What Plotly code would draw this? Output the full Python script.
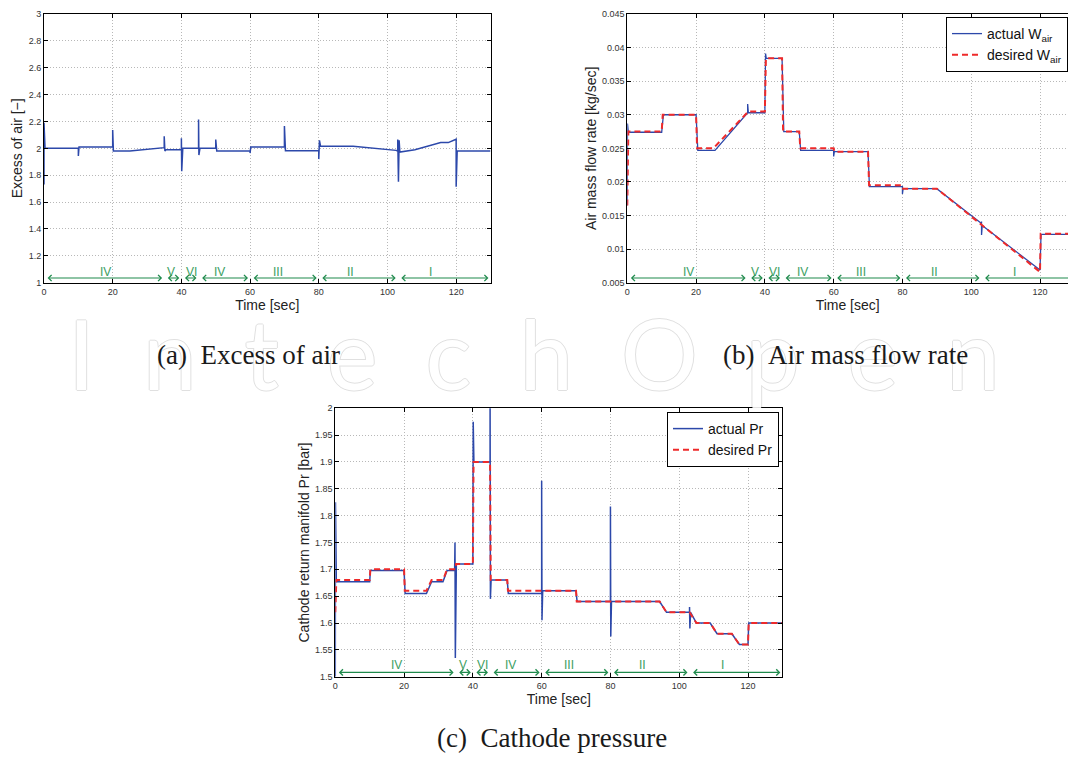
import plotly.graph_objects as go

# ---------------- data ----------------
# (a) excess of air
t_ex = [0, 0, 0.3, 10, 10, 10.2, 20, 20, 20.2, 25, 35, 35, 35.2, 35.5, 40, 40, 40.1, 40.4,
        45, 45, 45.1, 45.4, 50, 50, 50.3, 60, 60, 60.2, 70, 70, 70.3, 80, 80, 80.2, 80.5,
        90, 102.5, 103, 103, 103.2, 103.4, 103.6, 108, 112, 115.5, 117.7, 120, 120, 120.3, 130]
ex_air = [1.73, 2.19, 2.00, 2.00, 1.943, 2.01, 2.01, 2.136, 1.98, 1.98, 2.005, 2.09, 1.98, 1.99,
          1.99, 2.075, 1.83, 2.00, 2.00, 2.215, 1.95, 2.00, 2.00, 2.066, 1.98, 1.98, 1.965, 2.01,
          2.01, 2.166, 1.983, 1.983, 1.92, 2.06, 2.016, 2.016, 1.985, 1.98, 2.066, 1.752, 2.06,
          1.972, 1.99, 2.02, 2.043, 2.043, 2.068, 1.715, 1.98, 1.98]

# (b) air mass flow rate
t_w_act = [0, 0.05, 0.3, 10, 10.5, 20, 20.5, 25.5, 35, 35, 35.2, 40, 40.2, 40.4, 45, 45.5,
           50, 50.4, 60, 60, 60.2, 70, 70.4, 80, 80, 80.2, 90, 103, 103, 103, 103.2, 120,
           120.3, 130]
w_act = [0.0165, 0.0287, 0.0274, 0.0274, 0.0300, 0.0300, 0.0247, 0.0247, 0.0303, 0.0316,
         0.0303, 0.0303, 0.0391, 0.0384, 0.0384, 0.0275, 0.0275, 0.0247, 0.0247, 0.0238,
         0.0245, 0.0245, 0.0193, 0.0193, 0.0182, 0.0190, 0.0190, 0.0138, 0.0141, 0.0121,
         0.0135, 0.0069, 0.0122, 0.0122]
t_w_des = [0, 0.3, 10, 10.3, 20, 20.3, 25, 35, 35.2, 40, 40.3, 45, 45.3, 50, 50.3, 60, 60.2,
           70, 70.3, 80, 80.2, 90, 120, 120.2, 130]
w_des = [0.0165, 0.0275, 0.0275, 0.0300, 0.0300, 0.0250, 0.0250, 0.0303, 0.0305, 0.0305,
         0.0384, 0.0384, 0.0275, 0.0275, 0.0250, 0.0250, 0.0245, 0.0245, 0.0195, 0.0195,
         0.0190, 0.0190, 0.0066, 0.0123, 0.0123]

# (c) cathode return manifold pressure
t_p_act = [0, 0.05, 0.3, 10, 10.2, 20, 20.3, 26.5, 28, 31.3, 32.5, 34.7, 34.8, 34.9, 35.2, 40,
           40.1, 40.3, 45, 45, 45.1, 45.3, 50, 50.3, 60, 60, 60.1, 60.3, 70, 70.3, 80, 80,
           80.1, 80.3, 94.3, 96.3, 103, 103, 103.1, 103.3, 105, 109, 111, 115.3, 117.5, 120,
           120.2, 130]
p_act = [1.50, 1.825, 1.677, 1.677, 1.698, 1.698, 1.655, 1.655, 1.677, 1.677, 1.698, 1.698,
         1.75, 1.535, 1.71, 1.71, 1.975, 1.90, 1.90, 2.05, 1.645, 1.68, 1.68, 1.655, 1.655,
         1.865, 1.605, 1.66, 1.66, 1.64, 1.64, 1.817, 1.575, 1.64, 1.64, 1.62, 1.62, 1.63,
         1.59, 1.62, 1.60, 1.60, 1.58, 1.58, 1.56, 1.56, 1.60, 1.60]
t_p_des = [0, 0.3, 10, 10.2, 20, 20.2, 26.5, 28, 31.3, 32.5, 35, 35.1, 40, 40.2, 45, 45.2,
           50, 50.2, 60, 70, 70.2, 94.3, 96.3, 103, 105, 109, 111, 115.3, 117.5, 120, 120.2, 130]
p_des = [1.62, 1.68, 1.68, 1.70, 1.70, 1.66, 1.66, 1.68, 1.68, 1.70, 1.70, 1.71, 1.71, 1.90,
         1.90, 1.68, 1.68, 1.66, 1.66, 1.66, 1.64, 1.64, 1.62, 1.62, 1.60, 1.60, 1.58, 1.58,
         1.56, 1.56, 1.60, 1.60]

# operating regions (green arrows)
region_bounds = [0, 35, 40, 45, 60, 80, 103, 130]
region_labels = ["IV", "V", "VI", "IV", "III", "II", "I"]
region_label_t = [17.8, 37.0, 42.8, 51.0, 68.0, 89.3, 112.6]

# ticks
x_ticks = [0, 20, 40, 60, 80, 100, 120]
ex_ticks = [1, 1.2, 1.4, 1.6, 1.8, 2, 2.2, 2.4, 2.6, 2.8, 3]
w_ticks = [0.005, 0.01, 0.015, 0.02, 0.025, 0.03, 0.035, 0.04, 0.045]
p_ticks = [1.5, 1.55, 1.6, 1.65, 1.7, 1.75, 1.8, 1.85, 1.9, 1.95, 2]

# ---------------- styling ----------------
W, H = 1068, 758
BLUE = "#2c48aa"
RED = "#ee2a2a"
GREEN_A = "#1f8a4c"
GREEN_T = "#3c9e5f"
SANS = "Liberation Sans, Arial, sans-serif"
SERIF = "Liberation Serif, Times New Roman, serif"

def xd(p0, p1):
    return [p0 / W, p1 / W]

def yd(top, bottom):
    return [1 - bottom / H, 1 - top / H]

fig = go.Figure()

# (a)
fig.add_trace(go.Scatter(x=t_ex, y=ex_air, mode="lines", line=dict(color=BLUE, width=1.5),
                         xaxis="x", yaxis="y", showlegend=False))
# (b)
fig.add_trace(go.Scatter(x=t_w_act, y=w_act, mode="lines", line=dict(color=BLUE, width=1.3),
                         name="actual W<sub>air</sub>", xaxis="x2", yaxis="y2", legend="legend"))
fig.add_trace(go.Scatter(x=t_w_des, y=w_des, mode="lines",
                         line=dict(color=RED, width=2, dash="6px,4px"),
                         name="desired W<sub>air</sub>", xaxis="x2", yaxis="y2", legend="legend"))
# (c)
fig.add_trace(go.Scatter(x=t_p_act, y=p_act, mode="lines", line=dict(color=BLUE, width=1.5),
                         name="actual Pr", xaxis="x3", yaxis="y3", legend="legend2"))
fig.add_trace(go.Scatter(x=t_p_des, y=p_des, mode="lines",
                         line=dict(color=RED, width=2, dash="6px,4px"),
                         name="desired Pr", xaxis="x3", yaxis="y3", legend="legend2"))

axis_common = dict(showline=True, linecolor="black", linewidth=1, ticks="inside", ticklen=4,
                   tickcolor="black", showgrid=True, gridcolor="#b8b8b8", griddash="1px,2px",
                   gridwidth=1, zeroline=False, automargin=False,
                   tickfont=dict(family=SANS, size=9, color="#333333"))
title_font = dict(family=SANS, size=14, color="#222222")

fig.update_layout(
    width=W, height=H, margin=dict(l=0, r=0, t=0, b=0),
    paper_bgcolor="white", plot_bgcolor="white", template="none",
    xaxis=dict(axis_common, domain=xd(44, 490.5), range=[0, 130], tickvals=x_ticks,
               mirror="allticks", anchor="y",
               title=dict(text="Time [sec]", font=title_font, standoff=4)),
    yaxis=dict(axis_common, domain=yd(14, 282.7), range=[1, 3], tickvals=ex_ticks,
               mirror="allticks", anchor="x",
               title=dict(text="Excess of air [\u2212]", font=title_font, standoff=2)),
    xaxis2=dict(axis_common, domain=xd(627.3, 1068), range=[0, 128.14], tickvals=x_ticks,
                mirror="allticks", anchor="y2",
                title=dict(text="Time [sec]", font=title_font, standoff=4)),
    yaxis2=dict(axis_common, domain=yd(14, 282.7), range=[0.005, 0.045], tickvals=w_ticks,
                mirror=False, anchor="x2",
                title=dict(text="Air mass flow rate [kg/sec]", font=title_font, standoff=2)),
    xaxis3=dict(axis_common, domain=xd(335.3, 782.4), range=[0, 130], tickvals=x_ticks,
                mirror="allticks", anchor="y3",
                title=dict(text="Time [sec]", font=title_font, standoff=4)),
    yaxis3=dict(axis_common, domain=yd(408.3, 676.7), range=[1.5, 2.0], tickvals=p_ticks,
                mirror="allticks", anchor="x3",
                title=dict(text="Cathode return manifold Pr [bar]", font=title_font, standoff=2)),
    legend=dict(x=1.0, xanchor="right", y=1 - 17 / H, yanchor="top", xref="paper", yref="paper",
                bgcolor="white", bordercolor="black", borderwidth=1,
                font=dict(family=SANS, size=14, color="#111111"), tracegroupgap=0,
                itemwidth=30),
    legend2=dict(x=779 / W, xanchor="right", y=1 - 412 / H, yanchor="top",
                 xref="paper", yref="paper",
                 bgcolor="white", bordercolor="black", borderwidth=1,
                 font=dict(family=SANS, size=14, color="#111111"), tracegroupgap=0,
                 itemwidth=30),
)

annotations = []
# watermark (faint outlined letters)
WM = "#e0e0e0"
annotations.append(dict(text="I\u2002n\u2002t\u2002e\u2002c\u2002h\u2002O\u2002p\u2002e\u2002n",
                        x=0.5, y=1 - 352 / H, xref="paper", yref="paper",
                        showarrow=False, xanchor="center", yanchor="middle",
                        font=dict(family="Lato, sans-serif", size=96, color="white",
                                  shadow=f"1px 0 0 {WM}, -1px 0 0 {WM}, 0 1px 0 {WM}, 0 -1px 0 {WM}")))

# region arrows and labels for each panel
panels = [("x", "y", 1.035, 1.08), ("x2", "y2", 0.0057, 0.0066), ("x3", "y3", 1.508, 1.522)]
for xr, yr, ya, yl in panels:
    for i in range(len(region_labels)):
        a0 = region_bounds[i] + 0.6
        a1 = region_bounds[i + 1] - 0.6
        annotations.append(dict(x=a1, y=ya, ax=a0, ay=ya, xref=xr, yref=yr, axref=xr, ayref=yr,
                                text="", showarrow=True, arrowhead=4, startarrowhead=4,
                                arrowside="end+start", arrowsize=1.0, startarrowsize=1.0,
                                arrowwidth=1.2, arrowcolor=GREEN_A, standoff=0, startstandoff=0))
        annotations.append(dict(x=region_label_t[i], y=yl, xref=xr, yref=yr, text=region_labels[i],
                                showarrow=False, xanchor="center", yanchor="middle",
                                font=dict(family=SANS, size=12, color=GREEN_T)))

# captions
cap_font = dict(family=SERIF, size=27, color="#1a1a1a")
annotations.append(dict(text="(a)\u2002Excess of air", x=248 / W, y=1 - 355 / H, xref="paper",
                        yref="paper", showarrow=False, xanchor="center", yanchor="middle",
                        font=cap_font))
annotations.append(dict(text="(b)\u2002Air mass flow rate", x=845 / W, y=1 - 355 / H, xref="paper",
                        yref="paper", showarrow=False, xanchor="center", yanchor="middle",
                        font=cap_font))
annotations.append(dict(text="(c)\u2002Cathode pressure", x=552 / W, y=1 - 738 / H, xref="paper",
                        yref="paper", showarrow=False, xanchor="center", yanchor="middle",
                        font=cap_font))

fig.update_layout(annotations=annotations)

fig.write_html("out.html")
